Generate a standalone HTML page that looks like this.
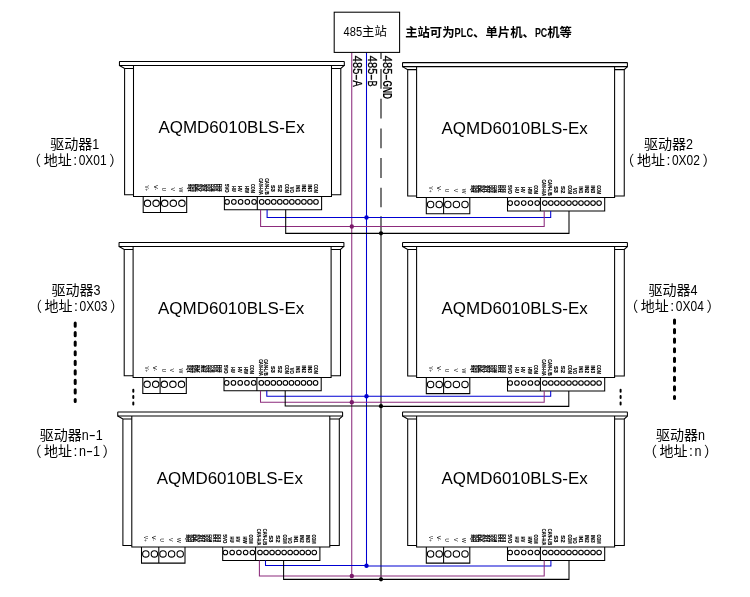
<!DOCTYPE html>
<html lang="zh-CN">
<head>
<meta charset="utf-8">
<title>485多机通讯接线示意图</title>
<style>
html,body{margin:0;padding:0;background:#fff}
body{width:750px;height:597px;overflow:hidden}
svg{display:block;will-change:transform;font-family:"Liberation Sans","Noto Sans CJK SC",sans-serif}
.k{fill:none;stroke:#000;stroke-width:1.05}
.p{fill:none;stroke:#8c2b7c;stroke-width:1.05}
.b{fill:none;stroke:#0000d2;stroke-width:1.05}
.pin text{font-weight:bold;stroke:#000;stroke-width:.15px}
.lab{font-size:14px}
.ttl{font-size:12.35px}
</style>
</head>
<body>
<svg width="750" height="597" viewBox="0 0 750 597">
<rect width="750" height="597" fill="#fff"/>
<path class="p" d="M351.75 52.4V576"/>
<path class="b" d="M366.5 52.4V565.7"/>
<path class="k" d="M381 39.3V207.3" stroke-dasharray="19.8 9.9"/>
<path class="k" d="M381 216.2V579.3"/>
<rect x="334.2" y="12.2" width="65.4" height="40.2" style="fill:#fff;stroke:#000;stroke-width:1.05"/>
<text class="ttl" y="36.3"><tspan x="343.6" textLength="18.52" lengthAdjust="spacingAndGlyphs">485</tspan><tspan x="362.12">主站</tspan></text>
<text class="ttl" y="36.9" font-weight="bold"><tspan x="405.2">主站可为</tspan><tspan x="454.6" textLength="18.52" lengthAdjust="spacingAndGlyphs" font-weight="bold">PLC</tspan><tspan x="473.12">、单片机、</tspan><tspan x="534.88" textLength="12.35" lengthAdjust="spacingAndGlyphs" font-weight="bold">PC</tspan><tspan x="547.23">机等</tspan></text>
<text class="ttl" y="0" stroke="#000" stroke-width="0.3" transform="translate(353.3 55.8) rotate(90)"><tspan x="0" textLength="18.52" lengthAdjust="spacingAndGlyphs">485</tspan><tspan x="18.52" textLength="6.17" lengthAdjust="spacingAndGlyphs">-</tspan><tspan x="24.7" textLength="6.17" lengthAdjust="spacingAndGlyphs">A</tspan></text>
<text class="ttl" y="0" stroke="#000" stroke-width="0.3" transform="translate(368.2 55.8) rotate(90)"><tspan x="0" textLength="18.52" lengthAdjust="spacingAndGlyphs">485</tspan><tspan x="18.52" textLength="6.17" lengthAdjust="spacingAndGlyphs">-</tspan><tspan x="24.7" textLength="6.17" lengthAdjust="spacingAndGlyphs">B</tspan></text>
<text class="ttl" y="0" stroke="#000" stroke-width="0.3" transform="translate(382.9 55.8) rotate(90)"><tspan x="0" textLength="18.52" lengthAdjust="spacingAndGlyphs">485</tspan><tspan x="18.52" textLength="6.17" lengthAdjust="spacingAndGlyphs">-</tspan><tspan x="24.7" textLength="18.52" lengthAdjust="spacingAndGlyphs" font-weight="bold" stroke="none">GND</tspan></text>
<g transform="translate(0 0)">
<path class="k" d="M119.85 61.4H343.9Q344.3 61.4 344.3 61.8V65.45H119.45V61.8Q119.45 61.4 119.85 61.4Z"/>
<path class="k" d="M119.45 65.45L124.6 68.4H133.5M124.6 68.4V194.8H133.5"/>
<path class="k" d="M344.3 65.45L340.8 68.4H331.5M340.8 68.4V194.8H331.5"/>
<path class="k" d="M133.5 65.45V196.4H331.5V65.45"/>
<path class="k" d="M143.2 196.4V212.5H186.7V196.4M160.5 196.4V212.5"/>
<circle class="k" cx="147.5" cy="203.3" r="3.2"/>
<circle class="k" cx="156.1" cy="203.3" r="3.2"/>
<circle class="k" cx="164.7" cy="203.3" r="3.2"/>
<circle class="k" cx="173.3" cy="203.3" r="3.2"/>
<circle class="k" cx="181.9" cy="203.3" r="3.2"/>
<path class="k" d="M224.4 196.4V209.8H321.6V196.4M257.3 196.4V209.8"/>
<circle class="k" cx="227.1" cy="201.9" r="2.3"/>
<circle class="k" cx="233.85" cy="201.9" r="2.3"/>
<circle class="k" cx="240.6" cy="201.9" r="2.3"/>
<circle class="k" cx="247.35" cy="201.9" r="2.3"/>
<circle class="k" cx="254.1" cy="201.9" r="2.3"/>
<circle class="k" cx="261.7" cy="201.9" r="2.3"/>
<circle class="k" cx="267.73" cy="201.9" r="2.3"/>
<circle class="k" cx="273.76" cy="201.9" r="2.3"/>
<circle class="k" cx="279.79" cy="201.9" r="2.3"/>
<circle class="k" cx="285.82" cy="201.9" r="2.3"/>
<circle class="k" cx="291.85" cy="201.9" r="2.3"/>
<circle class="k" cx="297.88" cy="201.9" r="2.3"/>
<circle class="k" cx="303.91" cy="201.9" r="2.3"/>
<circle class="k" cx="309.94" cy="201.9" r="2.3"/>
<circle class="k" cx="315.97" cy="201.9" r="2.3"/>
<text x="231.55" y="133.3" font-size="16.8" text-anchor="middle" textLength="146.2" lengthAdjust="spacingAndGlyphs">AQMD6010BLS-Ex</text>
<g class="pin">
<text style="stroke:none;font-weight:normal" transform="translate(145.47 185.4) rotate(90)" font-size="5.8" textLength="5.7" lengthAdjust="spacingAndGlyphs" fill="#000">V+</text>
<text style="stroke:none;font-weight:normal" transform="translate(153.57 185.1) rotate(90)" font-size="5.8" textLength="5.3" lengthAdjust="spacingAndGlyphs" fill="#000">V-</text>
<text style="stroke:none;font-weight:normal" transform="translate(162.12 187.8) rotate(90)" font-size="5.8" textLength="3.3" lengthAdjust="spacingAndGlyphs" fill="#000">U</text>
<text style="stroke:none;font-weight:normal" transform="translate(170.82 187.5) rotate(90)" font-size="5.8" textLength="3.6" lengthAdjust="spacingAndGlyphs" fill="#000">V</text>
<text style="stroke:none;font-weight:normal" transform="translate(178.92 187.5) rotate(90)" font-size="5.8" textLength="4.8" lengthAdjust="spacingAndGlyphs" fill="#000">W</text>
<text transform="translate(187.65 184) rotate(90)" font-size="3.5" textLength="7.5" lengthAdjust="spacingAndGlyphs" fill="#000">SQ1</text>
<text transform="translate(190.15 184) rotate(90)" font-size="3.5" textLength="7.5" lengthAdjust="spacingAndGlyphs" fill="#000">SQ2</text>
<text transform="translate(192.65 184) rotate(90)" font-size="3.5" textLength="7.5" lengthAdjust="spacingAndGlyphs" fill="#000">SQ3</text>
<text transform="translate(195.15 184) rotate(90)" font-size="3.5" textLength="7.5" lengthAdjust="spacingAndGlyphs" fill="#000">DE</text>
<text transform="translate(197.65 184) rotate(90)" font-size="3.5" textLength="7.5" lengthAdjust="spacingAndGlyphs" fill="#000">5V</text>
<text transform="translate(201.05 184) rotate(90)" font-size="3.5" textLength="7.5" lengthAdjust="spacingAndGlyphs" fill="#000">AI1</text>
<text transform="translate(203.55 184) rotate(90)" font-size="3.5" textLength="7.5" lengthAdjust="spacingAndGlyphs" fill="#000">AI2</text>
<text transform="translate(206.05 184) rotate(90)" font-size="3.5" textLength="7.5" lengthAdjust="spacingAndGlyphs" fill="#000">DO1</text>
<text transform="translate(208.55 184) rotate(90)" font-size="3.5" textLength="7.5" lengthAdjust="spacingAndGlyphs" fill="#000">DO2</text>
<text transform="translate(211.05 184) rotate(90)" font-size="3.5" textLength="7.5" lengthAdjust="spacingAndGlyphs" fill="#000">COM</text>
<text transform="translate(214.45 184) rotate(90)" font-size="3.5" textLength="7.5" lengthAdjust="spacingAndGlyphs" fill="#000">DI1</text>
<text transform="translate(216.95 184) rotate(90)" font-size="3.5" textLength="7.5" lengthAdjust="spacingAndGlyphs" fill="#000">DI2</text>
<text transform="translate(219.45 184) rotate(90)" font-size="3.5" textLength="7.5" lengthAdjust="spacingAndGlyphs" fill="#000">DI3</text>
<text transform="translate(224.68 184) rotate(90)" font-size="5.5" textLength="8.8" lengthAdjust="spacingAndGlyphs" fill="#000">5VO</text>
<text transform="translate(231.63 185.9) rotate(90)" font-size="5.5" textLength="5.8" lengthAdjust="spacingAndGlyphs" fill="#000">HU</text>
<text transform="translate(238.18 185.9) rotate(90)" font-size="5.5" textLength="5.8" lengthAdjust="spacingAndGlyphs" fill="#000">HV</text>
<text transform="translate(244.83 185.9) rotate(90)" font-size="5.5" textLength="6.9" lengthAdjust="spacingAndGlyphs" fill="#000">HW</text>
<text transform="translate(250.83 184) rotate(90)" font-size="5.5" textLength="8.8" lengthAdjust="spacingAndGlyphs" fill="#000">COM</text>
<text transform="translate(259.03 178.2) rotate(90)" font-size="5.5" textLength="16.6" lengthAdjust="spacingAndGlyphs" fill="#000">CAN-H/A</text>
<text transform="translate(264.63 178.2) rotate(90)" font-size="5.5" textLength="16.3" lengthAdjust="spacingAndGlyphs" fill="#000">CAN-L/B</text>
<text transform="translate(271.18 185) rotate(90)" font-size="5.5" textLength="6.7" lengthAdjust="spacingAndGlyphs" fill="#000">S3</text>
<text transform="translate(278.08 184.7) rotate(90)" font-size="5.5" textLength="7.3" lengthAdjust="spacingAndGlyphs" fill="#000">S2</text>
<text transform="translate(284.93 184) rotate(90)" font-size="5.5" textLength="8.9" lengthAdjust="spacingAndGlyphs" fill="#000">COM</text>
<text transform="translate(290.13 186.8) rotate(90)" font-size="5.5" textLength="6.1" lengthAdjust="spacingAndGlyphs" fill="#000">VO</text>
<text transform="translate(295.93 185) rotate(90)" font-size="5.5" textLength="7" lengthAdjust="spacingAndGlyphs" fill="#000">IN1</text>
<text transform="translate(302.03 184.4) rotate(90)" font-size="5.5" textLength="7.6" lengthAdjust="spacingAndGlyphs" fill="#000">IN2</text>
<text transform="translate(307.93 184.4) rotate(90)" font-size="5.5" textLength="7.6" lengthAdjust="spacingAndGlyphs" fill="#000">IN3</text>
<text transform="translate(314.03 184) rotate(90)" font-size="5.5" textLength="8.9" lengthAdjust="spacingAndGlyphs" fill="#000">COM</text>
</g>
</g>
<g transform="translate(283.1 1.2)">
<path class="k" d="M119.85 61.4H343.9Q344.3 61.4 344.3 61.8V65.45H119.45V61.8Q119.45 61.4 119.85 61.4Z"/>
<path class="k" d="M119.45 65.45L124.6 68.4H133.5M124.6 68.4V194.8H133.5"/>
<path class="k" d="M344.3 65.45L341.15 68.4H331.5M341.15 68.4V194.8H331.5"/>
<path class="k" d="M133.5 65.45V196.4H331.5V65.45"/>
<path class="k" d="M143.2 196.4V212.5H186.7V196.4M160.5 196.4V212.5"/>
<circle class="k" cx="147.5" cy="203.3" r="3.2"/>
<circle class="k" cx="156.1" cy="203.3" r="3.2"/>
<circle class="k" cx="164.7" cy="203.3" r="3.2"/>
<circle class="k" cx="173.3" cy="203.3" r="3.2"/>
<circle class="k" cx="181.9" cy="203.3" r="3.2"/>
<path class="k" d="M224.4 196.4V209.8H321.6V196.4M257.3 196.4V209.8"/>
<circle class="k" cx="227.1" cy="201.9" r="2.3"/>
<circle class="k" cx="233.85" cy="201.9" r="2.3"/>
<circle class="k" cx="240.6" cy="201.9" r="2.3"/>
<circle class="k" cx="247.35" cy="201.9" r="2.3"/>
<circle class="k" cx="254.1" cy="201.9" r="2.3"/>
<circle class="k" cx="261.7" cy="201.9" r="2.3"/>
<circle class="k" cx="267.73" cy="201.9" r="2.3"/>
<circle class="k" cx="273.76" cy="201.9" r="2.3"/>
<circle class="k" cx="279.79" cy="201.9" r="2.3"/>
<circle class="k" cx="285.82" cy="201.9" r="2.3"/>
<circle class="k" cx="291.85" cy="201.9" r="2.3"/>
<circle class="k" cx="297.88" cy="201.9" r="2.3"/>
<circle class="k" cx="303.91" cy="201.9" r="2.3"/>
<circle class="k" cx="309.94" cy="201.9" r="2.3"/>
<circle class="k" cx="315.97" cy="201.9" r="2.3"/>
<text x="231.55" y="133.3" font-size="16.8" text-anchor="middle" textLength="146.2" lengthAdjust="spacingAndGlyphs">AQMD6010BLS-Ex</text>
<g class="pin">
<text style="stroke:none;font-weight:normal" transform="translate(145.47 185.4) rotate(90)" font-size="5.8" textLength="5.7" lengthAdjust="spacingAndGlyphs" fill="#000">V+</text>
<text style="stroke:none;font-weight:normal" transform="translate(153.57 185.1) rotate(90)" font-size="5.8" textLength="5.3" lengthAdjust="spacingAndGlyphs" fill="#000">V-</text>
<text style="stroke:none;font-weight:normal" transform="translate(162.12 187.8) rotate(90)" font-size="5.8" textLength="3.3" lengthAdjust="spacingAndGlyphs" fill="#000">U</text>
<text style="stroke:none;font-weight:normal" transform="translate(170.82 187.5) rotate(90)" font-size="5.8" textLength="3.6" lengthAdjust="spacingAndGlyphs" fill="#000">V</text>
<text style="stroke:none;font-weight:normal" transform="translate(178.92 187.5) rotate(90)" font-size="5.8" textLength="4.8" lengthAdjust="spacingAndGlyphs" fill="#000">W</text>
<text transform="translate(187.65 184) rotate(90)" font-size="3.5" textLength="7.5" lengthAdjust="spacingAndGlyphs" fill="#000">SQ1</text>
<text transform="translate(190.15 184) rotate(90)" font-size="3.5" textLength="7.5" lengthAdjust="spacingAndGlyphs" fill="#000">SQ2</text>
<text transform="translate(192.65 184) rotate(90)" font-size="3.5" textLength="7.5" lengthAdjust="spacingAndGlyphs" fill="#000">SQ3</text>
<text transform="translate(195.15 184) rotate(90)" font-size="3.5" textLength="7.5" lengthAdjust="spacingAndGlyphs" fill="#000">DE</text>
<text transform="translate(197.65 184) rotate(90)" font-size="3.5" textLength="7.5" lengthAdjust="spacingAndGlyphs" fill="#000">5V</text>
<text transform="translate(201.05 184) rotate(90)" font-size="3.5" textLength="7.5" lengthAdjust="spacingAndGlyphs" fill="#000">AI1</text>
<text transform="translate(203.55 184) rotate(90)" font-size="3.5" textLength="7.5" lengthAdjust="spacingAndGlyphs" fill="#000">AI2</text>
<text transform="translate(206.05 184) rotate(90)" font-size="3.5" textLength="7.5" lengthAdjust="spacingAndGlyphs" fill="#000">DO1</text>
<text transform="translate(208.55 184) rotate(90)" font-size="3.5" textLength="7.5" lengthAdjust="spacingAndGlyphs" fill="#000">DO2</text>
<text transform="translate(211.05 184) rotate(90)" font-size="3.5" textLength="7.5" lengthAdjust="spacingAndGlyphs" fill="#000">COM</text>
<text transform="translate(214.45 184) rotate(90)" font-size="3.5" textLength="7.5" lengthAdjust="spacingAndGlyphs" fill="#000">DI1</text>
<text transform="translate(216.95 184) rotate(90)" font-size="3.5" textLength="7.5" lengthAdjust="spacingAndGlyphs" fill="#000">DI2</text>
<text transform="translate(219.45 184) rotate(90)" font-size="3.5" textLength="7.5" lengthAdjust="spacingAndGlyphs" fill="#000">DI3</text>
<text transform="translate(224.68 184) rotate(90)" font-size="5.5" textLength="8.8" lengthAdjust="spacingAndGlyphs" fill="#000">5VO</text>
<text transform="translate(231.63 185.9) rotate(90)" font-size="5.5" textLength="5.8" lengthAdjust="spacingAndGlyphs" fill="#000">HU</text>
<text transform="translate(238.18 185.9) rotate(90)" font-size="5.5" textLength="5.8" lengthAdjust="spacingAndGlyphs" fill="#000">HV</text>
<text transform="translate(244.83 185.9) rotate(90)" font-size="5.5" textLength="6.9" lengthAdjust="spacingAndGlyphs" fill="#000">HW</text>
<text transform="translate(250.83 184) rotate(90)" font-size="5.5" textLength="8.8" lengthAdjust="spacingAndGlyphs" fill="#000">COM</text>
<text transform="translate(259.03 178.2) rotate(90)" font-size="5.5" textLength="16.6" lengthAdjust="spacingAndGlyphs" fill="#000">CAN-H/A</text>
<text transform="translate(264.63 178.2) rotate(90)" font-size="5.5" textLength="16.3" lengthAdjust="spacingAndGlyphs" fill="#000">CAN-L/B</text>
<text transform="translate(271.18 185) rotate(90)" font-size="5.5" textLength="6.7" lengthAdjust="spacingAndGlyphs" fill="#000">S3</text>
<text transform="translate(278.08 184.7) rotate(90)" font-size="5.5" textLength="7.3" lengthAdjust="spacingAndGlyphs" fill="#000">S2</text>
<text transform="translate(284.93 184) rotate(90)" font-size="5.5" textLength="8.9" lengthAdjust="spacingAndGlyphs" fill="#000">COM</text>
<text transform="translate(290.13 186.8) rotate(90)" font-size="5.5" textLength="6.1" lengthAdjust="spacingAndGlyphs" fill="#000">VO</text>
<text transform="translate(295.93 185) rotate(90)" font-size="5.5" textLength="7" lengthAdjust="spacingAndGlyphs" fill="#000">IN1</text>
<text transform="translate(302.03 184.4) rotate(90)" font-size="5.5" textLength="7.6" lengthAdjust="spacingAndGlyphs" fill="#000">IN2</text>
<text transform="translate(307.93 184.4) rotate(90)" font-size="5.5" textLength="7.6" lengthAdjust="spacingAndGlyphs" fill="#000">IN3</text>
<text transform="translate(314.03 184) rotate(90)" font-size="5.5" textLength="8.9" lengthAdjust="spacingAndGlyphs" fill="#000">COM</text>
</g>
</g>
<g transform="translate(-0.4 181)">
<path class="k" d="M119.85 61.4H343.9Q344.3 61.4 344.3 61.8V65.45H119.45V61.8Q119.45 61.4 119.85 61.4Z"/>
<path class="k" d="M119.45 65.45L124.6 68.4H133.5M124.6 68.4V194.8H133.5"/>
<path class="k" d="M344.3 65.45L340.9 68.4H331.5M340.9 68.4V194.8H331.5"/>
<path class="k" d="M133.5 65.45V196.4H331.5V65.45"/>
<path class="k" d="M143.2 196.4V212.5H186.7V196.4M160.5 196.4V212.5"/>
<circle class="k" cx="147.5" cy="203.3" r="3.2"/>
<circle class="k" cx="156.1" cy="203.3" r="3.2"/>
<circle class="k" cx="164.7" cy="203.3" r="3.2"/>
<circle class="k" cx="173.3" cy="203.3" r="3.2"/>
<circle class="k" cx="181.9" cy="203.3" r="3.2"/>
<path class="k" d="M224.4 196.4V209.8H321.6V196.4M257.3 196.4V209.8"/>
<circle class="k" cx="227.1" cy="201.9" r="2.3"/>
<circle class="k" cx="233.85" cy="201.9" r="2.3"/>
<circle class="k" cx="240.6" cy="201.9" r="2.3"/>
<circle class="k" cx="247.35" cy="201.9" r="2.3"/>
<circle class="k" cx="254.1" cy="201.9" r="2.3"/>
<circle class="k" cx="261.7" cy="201.9" r="2.3"/>
<circle class="k" cx="267.73" cy="201.9" r="2.3"/>
<circle class="k" cx="273.76" cy="201.9" r="2.3"/>
<circle class="k" cx="279.79" cy="201.9" r="2.3"/>
<circle class="k" cx="285.82" cy="201.9" r="2.3"/>
<circle class="k" cx="291.85" cy="201.9" r="2.3"/>
<circle class="k" cx="297.88" cy="201.9" r="2.3"/>
<circle class="k" cx="303.91" cy="201.9" r="2.3"/>
<circle class="k" cx="309.94" cy="201.9" r="2.3"/>
<circle class="k" cx="315.97" cy="201.9" r="2.3"/>
<text x="231.55" y="133.3" font-size="16.8" text-anchor="middle" textLength="146.2" lengthAdjust="spacingAndGlyphs">AQMD6010BLS-Ex</text>
<g class="pin">
<text style="stroke:none;font-weight:normal" transform="translate(145.47 185.4) rotate(90)" font-size="5.8" textLength="5.7" lengthAdjust="spacingAndGlyphs" fill="#000">V+</text>
<text style="stroke:none;font-weight:normal" transform="translate(153.57 185.1) rotate(90)" font-size="5.8" textLength="5.3" lengthAdjust="spacingAndGlyphs" fill="#000">V-</text>
<text style="stroke:none;font-weight:normal" transform="translate(162.12 187.8) rotate(90)" font-size="5.8" textLength="3.3" lengthAdjust="spacingAndGlyphs" fill="#000">U</text>
<text style="stroke:none;font-weight:normal" transform="translate(170.82 187.5) rotate(90)" font-size="5.8" textLength="3.6" lengthAdjust="spacingAndGlyphs" fill="#000">V</text>
<text style="stroke:none;font-weight:normal" transform="translate(178.92 187.5) rotate(90)" font-size="5.8" textLength="4.8" lengthAdjust="spacingAndGlyphs" fill="#000">W</text>
<text transform="translate(187.65 184) rotate(90)" font-size="3.5" textLength="7.5" lengthAdjust="spacingAndGlyphs" fill="#000">SQ1</text>
<text transform="translate(190.15 184) rotate(90)" font-size="3.5" textLength="7.5" lengthAdjust="spacingAndGlyphs" fill="#000">SQ2</text>
<text transform="translate(192.65 184) rotate(90)" font-size="3.5" textLength="7.5" lengthAdjust="spacingAndGlyphs" fill="#000">SQ3</text>
<text transform="translate(195.15 184) rotate(90)" font-size="3.5" textLength="7.5" lengthAdjust="spacingAndGlyphs" fill="#000">DE</text>
<text transform="translate(197.65 184) rotate(90)" font-size="3.5" textLength="7.5" lengthAdjust="spacingAndGlyphs" fill="#000">5V</text>
<text transform="translate(201.05 184) rotate(90)" font-size="3.5" textLength="7.5" lengthAdjust="spacingAndGlyphs" fill="#000">AI1</text>
<text transform="translate(203.55 184) rotate(90)" font-size="3.5" textLength="7.5" lengthAdjust="spacingAndGlyphs" fill="#000">AI2</text>
<text transform="translate(206.05 184) rotate(90)" font-size="3.5" textLength="7.5" lengthAdjust="spacingAndGlyphs" fill="#000">DO1</text>
<text transform="translate(208.55 184) rotate(90)" font-size="3.5" textLength="7.5" lengthAdjust="spacingAndGlyphs" fill="#000">DO2</text>
<text transform="translate(211.05 184) rotate(90)" font-size="3.5" textLength="7.5" lengthAdjust="spacingAndGlyphs" fill="#000">COM</text>
<text transform="translate(214.45 184) rotate(90)" font-size="3.5" textLength="7.5" lengthAdjust="spacingAndGlyphs" fill="#000">DI1</text>
<text transform="translate(216.95 184) rotate(90)" font-size="3.5" textLength="7.5" lengthAdjust="spacingAndGlyphs" fill="#000">DI2</text>
<text transform="translate(219.45 184) rotate(90)" font-size="3.5" textLength="7.5" lengthAdjust="spacingAndGlyphs" fill="#000">DI3</text>
<text transform="translate(224.68 184) rotate(90)" font-size="5.5" textLength="8.8" lengthAdjust="spacingAndGlyphs" fill="#000">5VO</text>
<text transform="translate(231.63 185.9) rotate(90)" font-size="5.5" textLength="5.8" lengthAdjust="spacingAndGlyphs" fill="#000">HU</text>
<text transform="translate(238.18 185.9) rotate(90)" font-size="5.5" textLength="5.8" lengthAdjust="spacingAndGlyphs" fill="#000">HV</text>
<text transform="translate(244.83 185.9) rotate(90)" font-size="5.5" textLength="6.9" lengthAdjust="spacingAndGlyphs" fill="#000">HW</text>
<text transform="translate(250.83 184) rotate(90)" font-size="5.5" textLength="8.8" lengthAdjust="spacingAndGlyphs" fill="#000">COM</text>
<text transform="translate(259.03 178.2) rotate(90)" font-size="5.5" textLength="16.6" lengthAdjust="spacingAndGlyphs" fill="#000">CAN-H/A</text>
<text transform="translate(264.63 178.2) rotate(90)" font-size="5.5" textLength="16.3" lengthAdjust="spacingAndGlyphs" fill="#000">CAN-L/B</text>
<text transform="translate(271.18 185) rotate(90)" font-size="5.5" textLength="6.7" lengthAdjust="spacingAndGlyphs" fill="#000">S3</text>
<text transform="translate(278.08 184.7) rotate(90)" font-size="5.5" textLength="7.3" lengthAdjust="spacingAndGlyphs" fill="#000">S2</text>
<text transform="translate(284.93 184) rotate(90)" font-size="5.5" textLength="8.9" lengthAdjust="spacingAndGlyphs" fill="#000">COM</text>
<text transform="translate(290.13 186.8) rotate(90)" font-size="5.5" textLength="6.1" lengthAdjust="spacingAndGlyphs" fill="#000">VO</text>
<text transform="translate(295.93 185) rotate(90)" font-size="5.5" textLength="7" lengthAdjust="spacingAndGlyphs" fill="#000">IN1</text>
<text transform="translate(302.03 184.4) rotate(90)" font-size="5.5" textLength="7.6" lengthAdjust="spacingAndGlyphs" fill="#000">IN2</text>
<text transform="translate(307.93 184.4) rotate(90)" font-size="5.5" textLength="7.6" lengthAdjust="spacingAndGlyphs" fill="#000">IN3</text>
<text transform="translate(314.03 184) rotate(90)" font-size="5.5" textLength="8.9" lengthAdjust="spacingAndGlyphs" fill="#000">COM</text>
</g>
</g>
<g transform="translate(283.1 181.1)">
<path class="k" d="M119.85 61.4H343.9Q344.3 61.4 344.3 61.8V65.45H119.45V61.8Q119.45 61.4 119.85 61.4Z"/>
<path class="k" d="M119.45 65.45L124.6 68.4H133.5M124.6 68.4V194.8H133.5"/>
<path class="k" d="M344.3 65.45L341.2 68.4H331.5M341.2 68.4V194.8H331.5"/>
<path class="k" d="M133.5 65.45V196.4H331.5V65.45"/>
<path class="k" d="M143.2 196.4V212.5H186.7V196.4M160.5 196.4V212.5"/>
<circle class="k" cx="147.5" cy="203.3" r="3.2"/>
<circle class="k" cx="156.1" cy="203.3" r="3.2"/>
<circle class="k" cx="164.7" cy="203.3" r="3.2"/>
<circle class="k" cx="173.3" cy="203.3" r="3.2"/>
<circle class="k" cx="181.9" cy="203.3" r="3.2"/>
<path class="k" d="M224.4 196.4V209.8H321.6V196.4M257.3 196.4V209.8"/>
<circle class="k" cx="227.1" cy="201.9" r="2.3"/>
<circle class="k" cx="233.85" cy="201.9" r="2.3"/>
<circle class="k" cx="240.6" cy="201.9" r="2.3"/>
<circle class="k" cx="247.35" cy="201.9" r="2.3"/>
<circle class="k" cx="254.1" cy="201.9" r="2.3"/>
<circle class="k" cx="261.7" cy="201.9" r="2.3"/>
<circle class="k" cx="267.73" cy="201.9" r="2.3"/>
<circle class="k" cx="273.76" cy="201.9" r="2.3"/>
<circle class="k" cx="279.79" cy="201.9" r="2.3"/>
<circle class="k" cx="285.82" cy="201.9" r="2.3"/>
<circle class="k" cx="291.85" cy="201.9" r="2.3"/>
<circle class="k" cx="297.88" cy="201.9" r="2.3"/>
<circle class="k" cx="303.91" cy="201.9" r="2.3"/>
<circle class="k" cx="309.94" cy="201.9" r="2.3"/>
<circle class="k" cx="315.97" cy="201.9" r="2.3"/>
<text x="231.55" y="133.3" font-size="16.8" text-anchor="middle" textLength="146.2" lengthAdjust="spacingAndGlyphs">AQMD6010BLS-Ex</text>
<g class="pin">
<text style="stroke:none;font-weight:normal" transform="translate(145.47 185.4) rotate(90)" font-size="5.8" textLength="5.7" lengthAdjust="spacingAndGlyphs" fill="#000">V+</text>
<text style="stroke:none;font-weight:normal" transform="translate(153.57 185.1) rotate(90)" font-size="5.8" textLength="5.3" lengthAdjust="spacingAndGlyphs" fill="#000">V-</text>
<text style="stroke:none;font-weight:normal" transform="translate(162.12 187.8) rotate(90)" font-size="5.8" textLength="3.3" lengthAdjust="spacingAndGlyphs" fill="#000">U</text>
<text style="stroke:none;font-weight:normal" transform="translate(170.82 187.5) rotate(90)" font-size="5.8" textLength="3.6" lengthAdjust="spacingAndGlyphs" fill="#000">V</text>
<text style="stroke:none;font-weight:normal" transform="translate(178.92 187.5) rotate(90)" font-size="5.8" textLength="4.8" lengthAdjust="spacingAndGlyphs" fill="#000">W</text>
<text transform="translate(187.65 184) rotate(90)" font-size="3.5" textLength="7.5" lengthAdjust="spacingAndGlyphs" fill="#000">SQ1</text>
<text transform="translate(190.15 184) rotate(90)" font-size="3.5" textLength="7.5" lengthAdjust="spacingAndGlyphs" fill="#000">SQ2</text>
<text transform="translate(192.65 184) rotate(90)" font-size="3.5" textLength="7.5" lengthAdjust="spacingAndGlyphs" fill="#000">SQ3</text>
<text transform="translate(195.15 184) rotate(90)" font-size="3.5" textLength="7.5" lengthAdjust="spacingAndGlyphs" fill="#000">DE</text>
<text transform="translate(197.65 184) rotate(90)" font-size="3.5" textLength="7.5" lengthAdjust="spacingAndGlyphs" fill="#000">5V</text>
<text transform="translate(201.05 184) rotate(90)" font-size="3.5" textLength="7.5" lengthAdjust="spacingAndGlyphs" fill="#000">AI1</text>
<text transform="translate(203.55 184) rotate(90)" font-size="3.5" textLength="7.5" lengthAdjust="spacingAndGlyphs" fill="#000">AI2</text>
<text transform="translate(206.05 184) rotate(90)" font-size="3.5" textLength="7.5" lengthAdjust="spacingAndGlyphs" fill="#000">DO1</text>
<text transform="translate(208.55 184) rotate(90)" font-size="3.5" textLength="7.5" lengthAdjust="spacingAndGlyphs" fill="#000">DO2</text>
<text transform="translate(211.05 184) rotate(90)" font-size="3.5" textLength="7.5" lengthAdjust="spacingAndGlyphs" fill="#000">COM</text>
<text transform="translate(214.45 184) rotate(90)" font-size="3.5" textLength="7.5" lengthAdjust="spacingAndGlyphs" fill="#000">DI1</text>
<text transform="translate(216.95 184) rotate(90)" font-size="3.5" textLength="7.5" lengthAdjust="spacingAndGlyphs" fill="#000">DI2</text>
<text transform="translate(219.45 184) rotate(90)" font-size="3.5" textLength="7.5" lengthAdjust="spacingAndGlyphs" fill="#000">DI3</text>
<text transform="translate(224.68 184) rotate(90)" font-size="5.5" textLength="8.8" lengthAdjust="spacingAndGlyphs" fill="#000">5VO</text>
<text transform="translate(231.63 185.9) rotate(90)" font-size="5.5" textLength="5.8" lengthAdjust="spacingAndGlyphs" fill="#000">HU</text>
<text transform="translate(238.18 185.9) rotate(90)" font-size="5.5" textLength="5.8" lengthAdjust="spacingAndGlyphs" fill="#000">HV</text>
<text transform="translate(244.83 185.9) rotate(90)" font-size="5.5" textLength="6.9" lengthAdjust="spacingAndGlyphs" fill="#000">HW</text>
<text transform="translate(250.83 184) rotate(90)" font-size="5.5" textLength="8.8" lengthAdjust="spacingAndGlyphs" fill="#000">COM</text>
<text transform="translate(259.03 178.2) rotate(90)" font-size="5.5" textLength="16.6" lengthAdjust="spacingAndGlyphs" fill="#000">CAN-H/A</text>
<text transform="translate(264.63 178.2) rotate(90)" font-size="5.5" textLength="16.3" lengthAdjust="spacingAndGlyphs" fill="#000">CAN-L/B</text>
<text transform="translate(271.18 185) rotate(90)" font-size="5.5" textLength="6.7" lengthAdjust="spacingAndGlyphs" fill="#000">S3</text>
<text transform="translate(278.08 184.7) rotate(90)" font-size="5.5" textLength="7.3" lengthAdjust="spacingAndGlyphs" fill="#000">S2</text>
<text transform="translate(284.93 184) rotate(90)" font-size="5.5" textLength="8.9" lengthAdjust="spacingAndGlyphs" fill="#000">COM</text>
<text transform="translate(290.13 186.8) rotate(90)" font-size="5.5" textLength="6.1" lengthAdjust="spacingAndGlyphs" fill="#000">VO</text>
<text transform="translate(295.93 185) rotate(90)" font-size="5.5" textLength="7" lengthAdjust="spacingAndGlyphs" fill="#000">IN1</text>
<text transform="translate(302.03 184.4) rotate(90)" font-size="5.5" textLength="7.6" lengthAdjust="spacingAndGlyphs" fill="#000">IN2</text>
<text transform="translate(307.93 184.4) rotate(90)" font-size="5.5" textLength="7.6" lengthAdjust="spacingAndGlyphs" fill="#000">IN3</text>
<text transform="translate(314.03 184) rotate(90)" font-size="5.5" textLength="8.9" lengthAdjust="spacingAndGlyphs" fill="#000">COM</text>
</g>
</g>
<g transform="translate(-1.7 350.6)">
<path class="k" d="M119.85 61.4H343.9Q344.3 61.4 344.3 61.8V65.45H119.45V61.8Q119.45 61.4 119.85 61.4Z"/>
<path class="k" d="M119.45 65.45L124.6 68.4H133.5M124.6 68.4V194.8H133.5"/>
<path class="k" d="M344.3 65.45L341 68.4H331.5M341 68.4V194.8H331.5"/>
<path class="k" d="M133.5 65.45V196.4H331.5V65.45"/>
<path class="k" d="M143.2 196.4V212.5H186.7V196.4M160.5 196.4V212.5"/>
<circle class="k" cx="147.5" cy="203.3" r="3.2"/>
<circle class="k" cx="156.1" cy="203.3" r="3.2"/>
<circle class="k" cx="164.7" cy="203.3" r="3.2"/>
<circle class="k" cx="173.3" cy="203.3" r="3.2"/>
<circle class="k" cx="181.9" cy="203.3" r="3.2"/>
<path class="k" d="M224.4 196.4V209.8H321.6V196.4M257.3 196.4V209.8"/>
<circle class="k" cx="227.1" cy="201.9" r="2.3"/>
<circle class="k" cx="233.85" cy="201.9" r="2.3"/>
<circle class="k" cx="240.6" cy="201.9" r="2.3"/>
<circle class="k" cx="247.35" cy="201.9" r="2.3"/>
<circle class="k" cx="254.1" cy="201.9" r="2.3"/>
<circle class="k" cx="261.7" cy="201.9" r="2.3"/>
<circle class="k" cx="267.73" cy="201.9" r="2.3"/>
<circle class="k" cx="273.76" cy="201.9" r="2.3"/>
<circle class="k" cx="279.79" cy="201.9" r="2.3"/>
<circle class="k" cx="285.82" cy="201.9" r="2.3"/>
<circle class="k" cx="291.85" cy="201.9" r="2.3"/>
<circle class="k" cx="297.88" cy="201.9" r="2.3"/>
<circle class="k" cx="303.91" cy="201.9" r="2.3"/>
<circle class="k" cx="309.94" cy="201.9" r="2.3"/>
<circle class="k" cx="315.97" cy="201.9" r="2.3"/>
<text x="231.55" y="133.3" font-size="16.8" text-anchor="middle" textLength="146.2" lengthAdjust="spacingAndGlyphs">AQMD6010BLS-Ex</text>
<g class="pin">
<text style="stroke:none;font-weight:normal" transform="translate(145.47 185.4) rotate(90)" font-size="5.8" textLength="5.7" lengthAdjust="spacingAndGlyphs" fill="#000">V+</text>
<text style="stroke:none;font-weight:normal" transform="translate(153.57 185.1) rotate(90)" font-size="5.8" textLength="5.3" lengthAdjust="spacingAndGlyphs" fill="#000">V-</text>
<text style="stroke:none;font-weight:normal" transform="translate(162.12 187.8) rotate(90)" font-size="5.8" textLength="3.3" lengthAdjust="spacingAndGlyphs" fill="#000">U</text>
<text style="stroke:none;font-weight:normal" transform="translate(170.82 187.5) rotate(90)" font-size="5.8" textLength="3.6" lengthAdjust="spacingAndGlyphs" fill="#000">V</text>
<text style="stroke:none;font-weight:normal" transform="translate(178.92 187.5) rotate(90)" font-size="5.8" textLength="4.8" lengthAdjust="spacingAndGlyphs" fill="#000">W</text>
<text transform="translate(187.65 184) rotate(90)" font-size="3.5" textLength="7.5" lengthAdjust="spacingAndGlyphs" fill="#000">SQ1</text>
<text transform="translate(190.15 184) rotate(90)" font-size="3.5" textLength="7.5" lengthAdjust="spacingAndGlyphs" fill="#000">SQ2</text>
<text transform="translate(192.65 184) rotate(90)" font-size="3.5" textLength="7.5" lengthAdjust="spacingAndGlyphs" fill="#000">SQ3</text>
<text transform="translate(195.15 184) rotate(90)" font-size="3.5" textLength="7.5" lengthAdjust="spacingAndGlyphs" fill="#000">DE</text>
<text transform="translate(197.65 184) rotate(90)" font-size="3.5" textLength="7.5" lengthAdjust="spacingAndGlyphs" fill="#000">5V</text>
<text transform="translate(201.05 184) rotate(90)" font-size="3.5" textLength="7.5" lengthAdjust="spacingAndGlyphs" fill="#000">AI1</text>
<text transform="translate(203.55 184) rotate(90)" font-size="3.5" textLength="7.5" lengthAdjust="spacingAndGlyphs" fill="#000">AI2</text>
<text transform="translate(206.05 184) rotate(90)" font-size="3.5" textLength="7.5" lengthAdjust="spacingAndGlyphs" fill="#000">DO1</text>
<text transform="translate(208.55 184) rotate(90)" font-size="3.5" textLength="7.5" lengthAdjust="spacingAndGlyphs" fill="#000">DO2</text>
<text transform="translate(211.05 184) rotate(90)" font-size="3.5" textLength="7.5" lengthAdjust="spacingAndGlyphs" fill="#000">COM</text>
<text transform="translate(214.45 184) rotate(90)" font-size="3.5" textLength="7.5" lengthAdjust="spacingAndGlyphs" fill="#000">DI1</text>
<text transform="translate(216.95 184) rotate(90)" font-size="3.5" textLength="7.5" lengthAdjust="spacingAndGlyphs" fill="#000">DI2</text>
<text transform="translate(219.45 184) rotate(90)" font-size="3.5" textLength="7.5" lengthAdjust="spacingAndGlyphs" fill="#000">DI3</text>
<text transform="translate(224.68 184) rotate(90)" font-size="5.5" textLength="8.8" lengthAdjust="spacingAndGlyphs" fill="#000">5VO</text>
<text transform="translate(231.63 185.9) rotate(90)" font-size="5.5" textLength="5.8" lengthAdjust="spacingAndGlyphs" fill="#000">HU</text>
<text transform="translate(238.18 185.9) rotate(90)" font-size="5.5" textLength="5.8" lengthAdjust="spacingAndGlyphs" fill="#000">HV</text>
<text transform="translate(244.83 185.9) rotate(90)" font-size="5.5" textLength="6.9" lengthAdjust="spacingAndGlyphs" fill="#000">HW</text>
<text transform="translate(250.83 184) rotate(90)" font-size="5.5" textLength="8.8" lengthAdjust="spacingAndGlyphs" fill="#000">COM</text>
<text transform="translate(259.03 178.2) rotate(90)" font-size="5.5" textLength="16.6" lengthAdjust="spacingAndGlyphs" fill="#000">CAN-H/A</text>
<text transform="translate(264.63 178.2) rotate(90)" font-size="5.5" textLength="16.3" lengthAdjust="spacingAndGlyphs" fill="#000">CAN-L/B</text>
<text transform="translate(271.18 185) rotate(90)" font-size="5.5" textLength="6.7" lengthAdjust="spacingAndGlyphs" fill="#000">S3</text>
<text transform="translate(278.08 184.7) rotate(90)" font-size="5.5" textLength="7.3" lengthAdjust="spacingAndGlyphs" fill="#000">S2</text>
<text transform="translate(284.93 184) rotate(90)" font-size="5.5" textLength="8.9" lengthAdjust="spacingAndGlyphs" fill="#000">COM</text>
<text transform="translate(290.13 186.8) rotate(90)" font-size="5.5" textLength="6.1" lengthAdjust="spacingAndGlyphs" fill="#000">VO</text>
<text transform="translate(295.93 185) rotate(90)" font-size="5.5" textLength="7" lengthAdjust="spacingAndGlyphs" fill="#000">IN1</text>
<text transform="translate(302.03 184.4) rotate(90)" font-size="5.5" textLength="7.6" lengthAdjust="spacingAndGlyphs" fill="#000">IN2</text>
<text transform="translate(307.93 184.4) rotate(90)" font-size="5.5" textLength="7.6" lengthAdjust="spacingAndGlyphs" fill="#000">IN3</text>
<text transform="translate(314.03 184) rotate(90)" font-size="5.5" textLength="8.9" lengthAdjust="spacingAndGlyphs" fill="#000">COM</text>
</g>
</g>
<g transform="translate(283.1 350.6)">
<path class="k" d="M119.85 61.4H343.9Q344.3 61.4 344.3 61.8V65.45H119.45V61.8Q119.45 61.4 119.85 61.4Z"/>
<path class="k" d="M119.45 65.45L124.6 68.4H133.5M124.6 68.4V194.8H133.5"/>
<path class="k" d="M344.3 65.45L341.2 68.4H331.5M341.2 68.4V194.8H331.5"/>
<path class="k" d="M133.5 65.45V196.4H331.5V65.45"/>
<path class="k" d="M143.2 196.4V212.5H186.7V196.4M160.5 196.4V212.5"/>
<circle class="k" cx="147.5" cy="203.3" r="3.2"/>
<circle class="k" cx="156.1" cy="203.3" r="3.2"/>
<circle class="k" cx="164.7" cy="203.3" r="3.2"/>
<circle class="k" cx="173.3" cy="203.3" r="3.2"/>
<circle class="k" cx="181.9" cy="203.3" r="3.2"/>
<path class="k" d="M224.4 196.4V209.8H321.6V196.4M257.3 196.4V209.8"/>
<circle class="k" cx="227.1" cy="201.9" r="2.3"/>
<circle class="k" cx="233.85" cy="201.9" r="2.3"/>
<circle class="k" cx="240.6" cy="201.9" r="2.3"/>
<circle class="k" cx="247.35" cy="201.9" r="2.3"/>
<circle class="k" cx="254.1" cy="201.9" r="2.3"/>
<circle class="k" cx="261.7" cy="201.9" r="2.3"/>
<circle class="k" cx="267.73" cy="201.9" r="2.3"/>
<circle class="k" cx="273.76" cy="201.9" r="2.3"/>
<circle class="k" cx="279.79" cy="201.9" r="2.3"/>
<circle class="k" cx="285.82" cy="201.9" r="2.3"/>
<circle class="k" cx="291.85" cy="201.9" r="2.3"/>
<circle class="k" cx="297.88" cy="201.9" r="2.3"/>
<circle class="k" cx="303.91" cy="201.9" r="2.3"/>
<circle class="k" cx="309.94" cy="201.9" r="2.3"/>
<circle class="k" cx="315.97" cy="201.9" r="2.3"/>
<text x="231.55" y="133.3" font-size="16.8" text-anchor="middle" textLength="146.2" lengthAdjust="spacingAndGlyphs">AQMD6010BLS-Ex</text>
<g class="pin">
<text style="stroke:none;font-weight:normal" transform="translate(145.47 185.4) rotate(90)" font-size="5.8" textLength="5.7" lengthAdjust="spacingAndGlyphs" fill="#000">V+</text>
<text style="stroke:none;font-weight:normal" transform="translate(153.57 185.1) rotate(90)" font-size="5.8" textLength="5.3" lengthAdjust="spacingAndGlyphs" fill="#000">V-</text>
<text style="stroke:none;font-weight:normal" transform="translate(162.12 187.8) rotate(90)" font-size="5.8" textLength="3.3" lengthAdjust="spacingAndGlyphs" fill="#000">U</text>
<text style="stroke:none;font-weight:normal" transform="translate(170.82 187.5) rotate(90)" font-size="5.8" textLength="3.6" lengthAdjust="spacingAndGlyphs" fill="#000">V</text>
<text style="stroke:none;font-weight:normal" transform="translate(178.92 187.5) rotate(90)" font-size="5.8" textLength="4.8" lengthAdjust="spacingAndGlyphs" fill="#000">W</text>
<text transform="translate(187.65 184) rotate(90)" font-size="3.5" textLength="7.5" lengthAdjust="spacingAndGlyphs" fill="#000">SQ1</text>
<text transform="translate(190.15 184) rotate(90)" font-size="3.5" textLength="7.5" lengthAdjust="spacingAndGlyphs" fill="#000">SQ2</text>
<text transform="translate(192.65 184) rotate(90)" font-size="3.5" textLength="7.5" lengthAdjust="spacingAndGlyphs" fill="#000">SQ3</text>
<text transform="translate(195.15 184) rotate(90)" font-size="3.5" textLength="7.5" lengthAdjust="spacingAndGlyphs" fill="#000">DE</text>
<text transform="translate(197.65 184) rotate(90)" font-size="3.5" textLength="7.5" lengthAdjust="spacingAndGlyphs" fill="#000">5V</text>
<text transform="translate(201.05 184) rotate(90)" font-size="3.5" textLength="7.5" lengthAdjust="spacingAndGlyphs" fill="#000">AI1</text>
<text transform="translate(203.55 184) rotate(90)" font-size="3.5" textLength="7.5" lengthAdjust="spacingAndGlyphs" fill="#000">AI2</text>
<text transform="translate(206.05 184) rotate(90)" font-size="3.5" textLength="7.5" lengthAdjust="spacingAndGlyphs" fill="#000">DO1</text>
<text transform="translate(208.55 184) rotate(90)" font-size="3.5" textLength="7.5" lengthAdjust="spacingAndGlyphs" fill="#000">DO2</text>
<text transform="translate(211.05 184) rotate(90)" font-size="3.5" textLength="7.5" lengthAdjust="spacingAndGlyphs" fill="#000">COM</text>
<text transform="translate(214.45 184) rotate(90)" font-size="3.5" textLength="7.5" lengthAdjust="spacingAndGlyphs" fill="#000">DI1</text>
<text transform="translate(216.95 184) rotate(90)" font-size="3.5" textLength="7.5" lengthAdjust="spacingAndGlyphs" fill="#000">DI2</text>
<text transform="translate(219.45 184) rotate(90)" font-size="3.5" textLength="7.5" lengthAdjust="spacingAndGlyphs" fill="#000">DI3</text>
<text transform="translate(224.68 184) rotate(90)" font-size="5.5" textLength="8.8" lengthAdjust="spacingAndGlyphs" fill="#000">5VO</text>
<text transform="translate(231.63 185.9) rotate(90)" font-size="5.5" textLength="5.8" lengthAdjust="spacingAndGlyphs" fill="#000">HU</text>
<text transform="translate(238.18 185.9) rotate(90)" font-size="5.5" textLength="5.8" lengthAdjust="spacingAndGlyphs" fill="#000">HV</text>
<text transform="translate(244.83 185.9) rotate(90)" font-size="5.5" textLength="6.9" lengthAdjust="spacingAndGlyphs" fill="#000">HW</text>
<text transform="translate(250.83 184) rotate(90)" font-size="5.5" textLength="8.8" lengthAdjust="spacingAndGlyphs" fill="#000">COM</text>
<text transform="translate(259.03 178.2) rotate(90)" font-size="5.5" textLength="16.6" lengthAdjust="spacingAndGlyphs" fill="#000">CAN-H/A</text>
<text transform="translate(264.63 178.2) rotate(90)" font-size="5.5" textLength="16.3" lengthAdjust="spacingAndGlyphs" fill="#000">CAN-L/B</text>
<text transform="translate(271.18 185) rotate(90)" font-size="5.5" textLength="6.7" lengthAdjust="spacingAndGlyphs" fill="#000">S3</text>
<text transform="translate(278.08 184.7) rotate(90)" font-size="5.5" textLength="7.3" lengthAdjust="spacingAndGlyphs" fill="#000">S2</text>
<text transform="translate(284.93 184) rotate(90)" font-size="5.5" textLength="8.9" lengthAdjust="spacingAndGlyphs" fill="#000">COM</text>
<text transform="translate(290.13 186.8) rotate(90)" font-size="5.5" textLength="6.1" lengthAdjust="spacingAndGlyphs" fill="#000">VO</text>
<text transform="translate(295.93 185) rotate(90)" font-size="5.5" textLength="7" lengthAdjust="spacingAndGlyphs" fill="#000">IN1</text>
<text transform="translate(302.03 184.4) rotate(90)" font-size="5.5" textLength="7.6" lengthAdjust="spacingAndGlyphs" fill="#000">IN2</text>
<text transform="translate(307.93 184.4) rotate(90)" font-size="5.5" textLength="7.6" lengthAdjust="spacingAndGlyphs" fill="#000">IN3</text>
<text transform="translate(314.03 184) rotate(90)" font-size="5.5" textLength="8.9" lengthAdjust="spacingAndGlyphs" fill="#000">COM</text>
</g>
</g>
<path class="b" d="M267.1 209.8V217.55H366.5M366.5 217.55H550.7V211"/>
<path class="p" d="M260.6 209.8V226.55H351.75M351.75 226.55H544.2V211"/>
<path class="k" d="M285.7 209.8V233.35H381M381 233.35H569V211"/>
<circle cx="366.5" cy="217.55" r="2.2" fill="#0000d0"/>
<circle cx="351.8" cy="226.55" r="2.2" fill="#7a1a6a"/>
<circle cx="381" cy="233.35" r="2.1" fill="#000"/>
<path class="b" d="M266.8 390.8V396.2H366.5M366.5 396.2H550.7V390.9"/>
<path class="p" d="M260.5 390.8V402.25H351.75M351.75 402.25H544.2V390.9"/>
<path class="k" d="M285.2 390.8V405.95H381M381 406.35H568.8V390.9"/>
<circle cx="366.5" cy="396.2" r="2.2" fill="#0000d0"/>
<circle cx="351.8" cy="402.25" r="2.2" fill="#7a1a6a"/>
<circle cx="381" cy="406.15" r="2.1" fill="#000"/>
<path class="b" d="M265.5 560.4V565.45H366.5M366.5 566H550.9V560.4"/>
<path class="p" d="M259.4 560.4V575.95H351.75M351.75 575.95H544.2V560.4"/>
<path class="k" d="M283.6 560.4V579.35H381M381 579.35H569V560.4"/>
<circle cx="366.5" cy="565.73" r="2.2" fill="#0000d0"/>
<circle cx="351.8" cy="575.95" r="2.2" fill="#7a1a6a"/>
<circle cx="381" cy="579.35" r="2.1" fill="#000"/>
<text class="lab" y="148.6"><tspan x="50.2">驱动器</tspan><tspan x="92.2" textLength="7" lengthAdjust="spacingAndGlyphs">1</tspan></text>
<text class="lab" y="165"><tspan x="27.1">（</tspan><tspan x="43.7">地址</tspan><tspan x="73.25">:</tspan><tspan x="78.7" textLength="28" lengthAdjust="spacingAndGlyphs">0X01</tspan><tspan x="109.3">）</tspan></text>
<text class="lab" y="148.6"><tspan x="643.9">驱动器</tspan><tspan x="685.9" textLength="7" lengthAdjust="spacingAndGlyphs">2</tspan></text>
<text class="lab" y="165"><tspan x="620.3">（</tspan><tspan x="636.9">地址</tspan><tspan x="666.45">:</tspan><tspan x="671.9" textLength="28" lengthAdjust="spacingAndGlyphs">0X02</tspan><tspan x="702.5">）</tspan></text>
<text class="lab" y="294.8"><tspan x="51.5">驱动器</tspan><tspan x="93.5" textLength="7" lengthAdjust="spacingAndGlyphs">3</tspan></text>
<text class="lab" y="311"><tspan x="27.9">（</tspan><tspan x="44.5">地址</tspan><tspan x="74.05">:</tspan><tspan x="79.5" textLength="28" lengthAdjust="spacingAndGlyphs">0X03</tspan><tspan x="110.1">）</tspan></text>
<text class="lab" y="294.8"><tspan x="648.5">驱动器</tspan><tspan x="690.5" textLength="7" lengthAdjust="spacingAndGlyphs">4</tspan></text>
<text class="lab" y="311"><tspan x="624.2">（</tspan><tspan x="640.8">地址</tspan><tspan x="670.35">:</tspan><tspan x="675.8" textLength="28" lengthAdjust="spacingAndGlyphs">0X04</tspan><tspan x="706.4">）</tspan></text>
<text class="lab" y="439.8"><tspan x="39.7">驱动器</tspan><tspan x="81.7" textLength="7" lengthAdjust="spacingAndGlyphs">n</tspan><tspan x="88.7" textLength="7" lengthAdjust="spacingAndGlyphs">-</tspan><tspan x="95.7" textLength="7" lengthAdjust="spacingAndGlyphs">1</tspan></text>
<text class="lab" y="456.4"><tspan x="27.4">（</tspan><tspan x="44">地址</tspan><tspan x="73.55">:</tspan><tspan x="79" textLength="7" lengthAdjust="spacingAndGlyphs">n</tspan><tspan x="86" textLength="7" lengthAdjust="spacingAndGlyphs">-</tspan><tspan x="93" textLength="7" lengthAdjust="spacingAndGlyphs">1</tspan><tspan x="102.6">）</tspan></text>
<text class="lab" y="439.8"><tspan x="656">驱动器</tspan><tspan x="698" textLength="7" lengthAdjust="spacingAndGlyphs">n</tspan></text>
<text class="lab" y="456.4"><tspan x="642.9">（</tspan><tspan x="659.5">地址</tspan><tspan x="689.05">:</tspan><tspan x="694.5" textLength="7" lengthAdjust="spacingAndGlyphs">n</tspan><tspan x="704.1">）</tspan></text>
<path d="M75.2 323V401.5" fill="none" stroke="#000" stroke-width="3" stroke-linecap="round" stroke-dasharray="3.2 6.35"/>
<path d="M674.5 320V398.5" fill="none" stroke="#000" stroke-width="3" stroke-linecap="round" stroke-dasharray="3.2 6.35"/>
<path d="M133.3 389.8V405" fill="none" stroke="#000" stroke-width="2" stroke-linecap="round" stroke-dasharray="2 4.3"/>
<path d="M620.6 389.8V405" fill="none" stroke="#000" stroke-width="2" stroke-linecap="round" stroke-dasharray="2 4.3"/>
</svg>
</body>
</html>
